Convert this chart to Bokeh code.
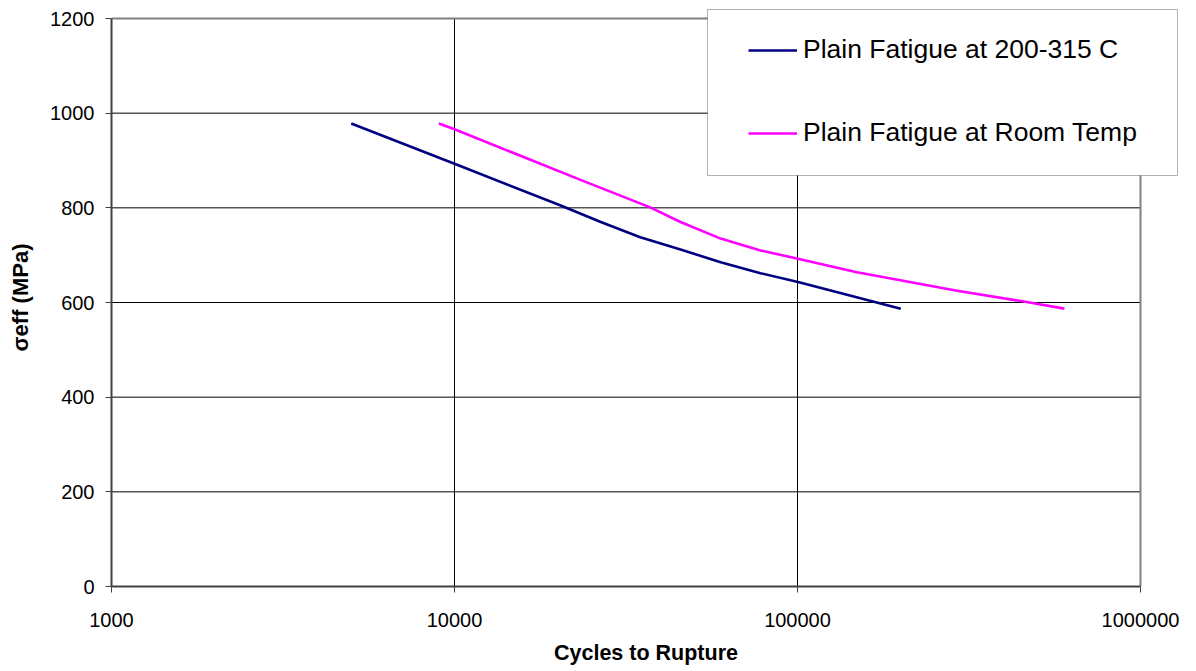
from bokeh.plotting import figure
from bokeh.models import (Legend, LegendItem, FixedTicker, NumeralTickFormatter,
                          BoxAnnotation, Range1d)
from bokeh.embed import file_html
from bokeh.resources import INLINE

# ---- data ----
cycles_hot = [5000, 10000, 20400, 26700, 34800, 45600, 59700, 78000, 101000, 200000]
stress_hot = [978, 893, 805, 770, 738, 712, 685, 662, 643, 587]

cycles_rt = [9000, 10000, 23300, 37200, 45600, 59700, 78000, 101000, 149000, 292000, 457000, 600000]
stress_rt = [978, 966, 859, 801, 770, 735, 710, 692, 664, 625, 602, 587]

x_ticks = [1000, 10000, 100000, 1000000]
y_ticks = [0, 200, 400, 600, 800, 1000, 1200]

label_hot = "Plain Fatigue at 200-315 C"
label_rt = "Plain Fatigue at Room Temp"
x_title = "Cycles to Rupture"
y_title = "\u03c3eff (MPa)"

FONT = "Liberation Sans"

# ---- layout (pixels) ----
W, H = 1188, 670
B_LEFT, B_RIGHT, B_TOP, B_BOTTOM = 111, 8, 8, 84
PX_PER_DECADE = 343.0          # 1000 -> 1e6 spans 1029 px
PX_PER_UNIT = 568.0 / 1200.0   # 0 -> 1200 spans 568 px
frame_w = W - B_LEFT - B_RIGHT
frame_h = H - B_TOP - B_BOTTOM
x_end = 10 ** (3 + frame_w / PX_PER_DECADE)
y_end = frame_h / PX_PER_UNIT

p = figure(width=W, height=H, x_axis_type="log",
           x_range=Range1d(x_ticks[0], x_end), y_range=Range1d(y_ticks[0], y_end),
           output_backend="svg", toolbar_location=None,
           min_border_left=B_LEFT, min_border_right=B_RIGHT,
           min_border_top=B_TOP, min_border_bottom=B_BOTTOM)

p.background_fill_color = "white"
p.border_fill_color = "white"
p.outline_line_color = None
p.xgrid.visible = False
p.ygrid.visible = False

# grid lines (interior, black) and plot-area border (top/right, gray)
x0, x1 = x_ticks[0], x_ticks[-1]
y0, y1 = y_ticks[0], y_ticks[-1]
inner_y = y_ticks[1:-1]
inner_x = x_ticks[1:-1]
p.segment(x0=[x0] * len(inner_y), x1=[x1] * len(inner_y), y0=inner_y, y1=inner_y,
          line_color="black", line_width=1)
p.segment(x0=inner_x, x1=inner_x, y0=[y0] * len(inner_x), y1=[y1] * len(inner_x),
          line_color="black", line_width=1)
p.segment(x0=[x0, x1], x1=[x1, x1], y0=[y1, y0], y1=[y1, y1],
          line_color="#808080", line_width=2)

r_hot = p.line(cycles_hot, stress_hot, line_color="#000080", line_width=2.6)
r_rt = p.line(cycles_rt, stress_rt, line_color="#FF00FF", line_width=2.6)

# axes
for ax in (p.xaxis[0], p.yaxis[0]):
    ax.axis_line_color = "#404040"
    ax.axis_line_width = 2
    ax.major_tick_line_color = "#404040"
    ax.major_tick_out = 6
    ax.major_tick_in = 0
    ax.minor_tick_line_color = None
    ax.major_label_text_font = FONT
    ax.major_label_text_font_size = "20px"
    ax.major_label_text_color = "black"
    ax.axis_label_text_font = FONT
    ax.axis_label_text_font_style = "bold"
    ax.axis_label_text_color = "black"

p.xaxis[0].bounds = (x0, x1)
p.xaxis[0].ticker = FixedTicker(ticks=x_ticks)
p.xaxis[0].formatter = NumeralTickFormatter(format="0")
p.xaxis[0].major_label_standoff = 20
p.xaxis[0].axis_label = x_title
p.xaxis[0].axis_label_text_font_size = "21.5px"
p.xaxis[0].axis_label_standoff = 11

p.yaxis[0].bounds = (y0, y1)
p.yaxis[0].ticker = FixedTicker(ticks=y_ticks)
p.yaxis[0].major_label_standoff = 11
p.yaxis[0].axis_label = y_title
p.yaxis[0].axis_label_text_font_size = "22px"
p.yaxis[0].axis_label_standoff = 14

# legend frame (screen px relative to the plot frame, y up from frame bottom)
box = BoxAnnotation(left=596, right=1066, bottom=411, top=577,
                    left_units="screen", right_units="screen",
                    top_units="screen", bottom_units="screen",
                    fill_color="white", fill_alpha=1.0,
                    line_color="black", line_width=1)
p.add_layout(box)

legend = Legend(items=[LegendItem(label=label_hot, renderers=[r_hot]),
                       LegendItem(label=label_rt, renderers=[r_rt])],
                location=(627, 428), orientation="vertical")
legend.border_line_alpha = 0
legend.background_fill_alpha = 0
legend.padding = 10
legend.spacing = 52
legend.glyph_width = 49
legend.glyph_height = 30
legend.label_height = 30
legend.label_standoff = 6
legend.label_text_font = FONT
legend.label_text_font_size = "26.5px"
legend.label_text_color = "black"
p.add_layout(legend, "center")

open("out.html", "w").write(file_html(p, INLINE))
